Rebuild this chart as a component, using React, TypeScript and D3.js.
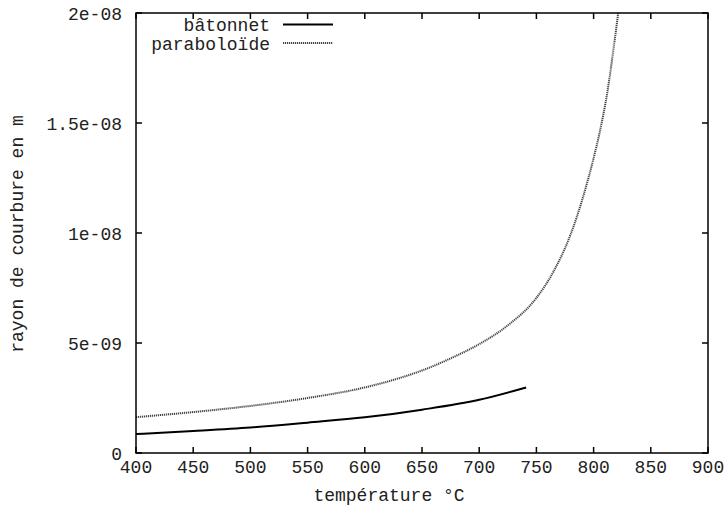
import React from "react";
import * as d3 from "d3";

const temperatures = [400, 450, 500, 550, 600, 630, 650, 675, 700, 725, 750, 765, 780, 790, 800, 805, 812, 818, 822];
const paraboloide = [1.63e-9, 1.86e-9, 2.14e-9, 2.5e-9, 2.98e-9, 3.4e-9, 3.75e-9, 4.3e-9, 4.95e-9, 5.8e-9, 7.05e-9, 8.25e-9, 9.95e-9, 11.5e-9, 13.4e-9, 14.5e-9, 16.4e-9, 18.6e-9, 20.2e-9];
const batonTemps = [400, 450, 500, 550, 600, 650, 700, 741];
const batonnet = [0.86e-9, 1.0e-9, 1.16e-9, 1.38e-9, 1.62e-9, 1.97e-9, 2.42e-9, 2.98e-9];
const xTicks = [400, 450, 500, 550, 600, 650, 700, 750, 800, 850, 900];
const yTicks = [0, 5e-9, 1e-8, 1.5e-8, 2e-8];
const yTickLabels = ["0", "5e-09", "1e-08", "1.5e-08", "2e-08"];
const seriesNames = ["bâtonnet", "paraboloïde"];

const W = 727, H = 510;
const L = 136, R = 708, T = 13, B = 453;
const FONT = "'Liberation Mono', 'DejaVu Sans Mono', monospace";

export default function App() {
  const x = d3.scaleLinear().domain([400, 900]).range([L, R]);
  const y = d3.scaleLinear().domain([0, 2e-8]).range([B, T]);
  const line = d3.line<[number, number]>().x(d => x(d[0])).y(d => y(d[1])).curve(d3.curveMonotoneX);
  const pPath = line(temperatures.map((t, i) => [t, paraboloide[i]]))!;
  const bPath = line(batonTemps.map((t, i) => [t, batonnet[i]]))!;
  const tick = 6;
  return (
    <svg width={W} height={H} style={{ position: "absolute", left: 0, top: 0, background: "#fff" }}
      fontFamily={FONT} fontSize={18}>
      <defs>
        <clipPath id="plot"><rect x={L} y={T} width={R - L} height={B - T} /></clipPath>
      </defs>
      <rect x={0} y={0} width={W} height={H} fill="#fff" />
      {xTicks.map(v => (
        <g key={"x" + v}>
          <line x1={x(v)} x2={x(v)} y1={B} y2={B - tick} stroke="#000" strokeWidth={1.5} />
          <line x1={x(v)} x2={x(v)} y1={T} y2={T + tick} stroke="#000" strokeWidth={1.5} />
          <text x={x(v)} y={468} textAnchor="middle" dominantBaseline="central" fill="#222">{v}</text>
        </g>
      ))}
      {yTicks.map((v, i) => (
        <g key={"y" + i}>
          <line x1={L} x2={L + tick} y1={y(v)} y2={y(v)} stroke="#000" strokeWidth={1.5} />
          <line x1={R} x2={R - tick} y1={y(v)} y2={y(v)} stroke="#000" strokeWidth={1.5} />
          <text x={122} y={y(v) + 2} textAnchor="end" dominantBaseline="central" fill="#222">{yTickLabels[i]}</text>
        </g>
      ))}
      <g clipPath="url(#plot)">
        <path d={pPath} fill="none" stroke="#444" strokeWidth={2} strokeDasharray="1.2,0.8" />
        <path d={bPath} fill="none" stroke="#000" strokeWidth={2} />
      </g>
      <rect x={L} y={T} width={R - L} height={B - T} fill="none" stroke="#000" strokeWidth={1.5} />
      <text x={270} y={26} textAnchor="end" dominantBaseline="central" fill="#222">{seriesNames[0]}</text>
      <line x1={283} x2={333} y1={24.5} y2={24.5} stroke="#000" strokeWidth={2} />
      <text x={270} y={45} textAnchor="end" dominantBaseline="central" fill="#222">{seriesNames[1]}</text>
      <line x1={283} x2={333} y1={43} y2={43} stroke="#444" strokeWidth={2} strokeDasharray="1.2,0.8" />
      <text x={389} y={496} textAnchor="middle" dominantBaseline="central" fill="#222">température °C</text>
      <text transform={`translate(18,234) rotate(-90)`} textAnchor="middle" dominantBaseline="central" fill="#222">rayon de courbure en m</text>
    </svg>
  );
}
